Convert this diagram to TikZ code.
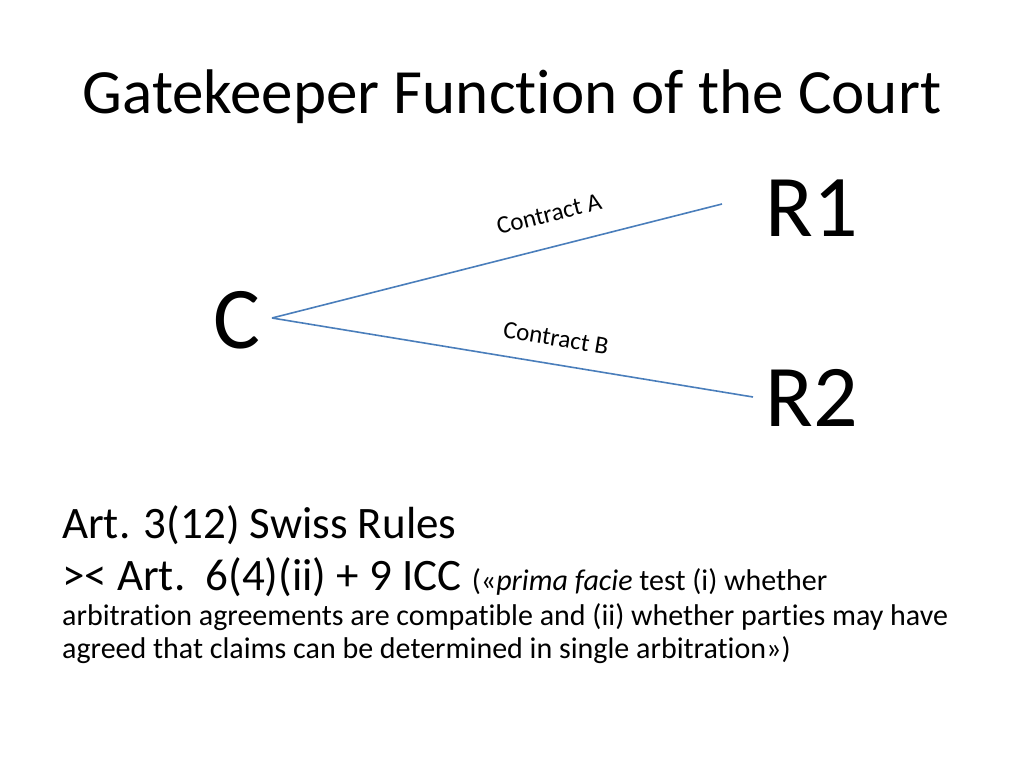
\documentclass[tikz,border=0pt]{standalone}
\usepackage{fontspec}
\setmainfont{Carlito}[Ligatures={NoCommon}]
\definecolor{ln}{RGB}{74,126,187}
\begin{document}
\begin{tikzpicture}[x=1pt,y=-1pt,
  big/.style={font=\fontsize{88}{96}\selectfont,inner sep=0},
  lab/.style={font=\fontsize{25}{30}\selectfont,inner sep=0},
  conn/.style={draw=ln,line width=1.6pt}]
\useasboundingbox (0,0) rectangle (1024,768);
\node[inner sep=0,font=\fontsize{63}{70}\selectfont] (title) at (512,97) {Gatekeeper Function of the Court};
\node[big] (C) at (237,320) {C};
\node[big] (R1) at (812,208) {R1};
\node[big] (R2) at (812,398) {R2};
\coordinate (c0) at (272,318);
\coordinate (a1) at (722,204);
\coordinate (b1) at (753,397);
\draw[conn] (c0) -- (a1);
\draw[conn] (c0) -- (b1);
\node[lab,rotate=14.2] (la) at (549,214) {Contract A};
\node[lab,rotate=-9.3] (lb) at (556,338) {Contract B};
\node[anchor=west,inner sep=0,font=\fontsize{45}{52}\selectfont] (t1) at (62,525) {Art. 3(12) Swiss Rules};
\node[anchor=west,inner sep=0,font=\fontsize{45}{52}\selectfont] (t2) at (62,577) {>< Art.\ \ 6(4)(ii) + 9 ICC {\fontsize{30}{36}\selectfont («\textit{prima facie} test (i) whether}};
\node[anchor=west,inner sep=0,font=\fontsize{30}{36}\selectfont] (t3) at (62,617) {arbitration agreements are compatible and (ii) whether parties may have};
\node[anchor=west,inner sep=0,font=\fontsize{30}{36}\selectfont] (t4) at (62,650) {agreed that claims can be determined in single arbitration»)};
\end{tikzpicture}
\end{document}
